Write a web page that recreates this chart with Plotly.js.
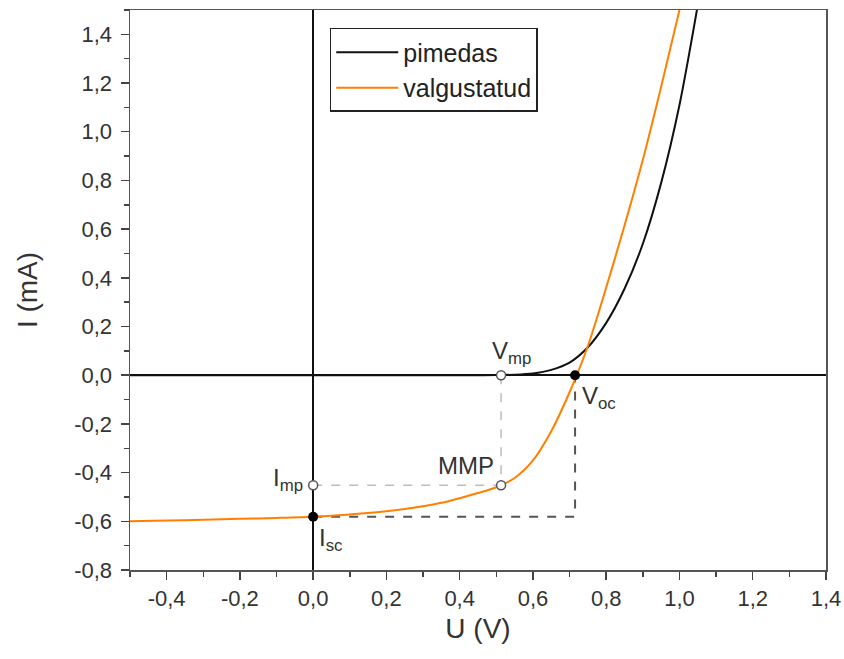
<!DOCTYPE html>
<html>
<head>
<meta charset="utf-8">
<script src="https://cdn.plot.ly/plotly-3.0.1.min.js"></script>
<style>html,body{margin:0;padding:0;background:#fff;}#chart{width:844px;height:659px;}</style>
</head>
<body>
<div id="chart"></div>
<script>
// Dark curve (pimedas)
const darkU = [-0.5, -0.3, -0.1, 0.1, 0.3, 0.45, 0.5, 0.55, 0.6, 0.65, 0.7, 0.75, 0.8, 0.85, 0.9, 0.95, 1.0, 1.05];
const darkI = [0, 0, 0, 0, 0, 0, 0.0005, 0.002, 0.007, 0.022, 0.052, 0.115, 0.215, 0.355, 0.54, 0.79, 1.11, 1.52];
// Illuminated curve (valgustatud)
const lightU = [-0.5, -0.4, -0.3, -0.2, -0.1, 0.0, 0.1, 0.2, 0.3, 0.35, 0.4, 0.45, 0.5, 0.55, 0.6, 0.65, 0.7, 0.75, 0.8, 0.85, 0.9, 0.95, 1.0];
const lightI = [-0.600, -0.597, -0.594, -0.590, -0.586, -0.581, -0.572, -0.559, -0.538, -0.524, -0.505, -0.484, -0.460, -0.422, -0.350, -0.230, -0.070, 0.120, 0.360, 0.615, 0.885, 1.185, 1.500];
// Key points
const Vmp = 0.513, Imp = -0.452, Voc = 0.715, Isc = -0.581;
const seriesNames = ["pimedas", "valgustatud"];
const xTickVals = [-0.4, -0.2, 0.0, 0.2, 0.4, 0.6, 0.8, 1.0, 1.2, 1.4];
const xTickText = ["-0,4", "-0,2", "0,0", "0,2", "0,4", "0,6", "0,8", "1,0", "1,2", "1,4"];
const yTickVals = [-0.8, -0.6, -0.4, -0.2, 0.0, 0.2, 0.4, 0.6, 0.8, 1.0, 1.2, 1.4];
const yTickText = ["-0,8", "-0,6", "-0,4", "-0,2", "0,0", "0,2", "0,4", "0,6", "0,8", "1,0", "1,2", "1,4"];

const FONT = "Liberation Sans, Arial, sans-serif";
const traces = [
  {x: [Vmp, Vmp], y: [0, Imp], mode: "lines", line: {color: "#bdbdbd", width: 1.5, dash: "dash"}, showlegend: false, hoverinfo: "skip"},
  {x: [0, Vmp], y: [Imp, Imp], mode: "lines", line: {color: "#bdbdbd", width: 1.5, dash: "dash"}, showlegend: false, hoverinfo: "skip"},
  {x: [0, Voc, Voc], y: [Isc, Isc, 0], mode: "lines", line: {color: "#555", width: 2, dash: "dash"}, showlegend: false, hoverinfo: "skip"},
  {x: darkU, y: darkI, name: seriesNames[0], mode: "lines", line: {color: "#111", width: 2, shape: "spline", smoothing: 0.8}},
  {x: lightU, y: lightI, name: seriesNames[1], mode: "lines", line: {color: "#ff8000", width: 2, shape: "spline", smoothing: 0.8}},
  {x: [Vmp, Vmp, 0], y: [0, Imp, Imp], mode: "markers", marker: {symbol: "circle", size: 9, color: "#fff", line: {color: "#555", width: 1.5}}, showlegend: false},
  {x: [0, Voc], y: [Isc, 0], mode: "markers", marker: {symbol: "circle", size: 10, color: "#000"}, showlegend: false}
];

const ann = (x, y, text, xanchor, yanchor, xshift, yshift) => ({x, y, text, showarrow: false, xanchor, yanchor, xshift, yshift, borderpad: 0, font: {family: FONT, size: 24, color: "#333"}});

const layout = {
  width: 844, height: 659,
  margin: {l: 130, r: 18, t: 10, b: 89},
  paper_bgcolor: "#fff", plot_bgcolor: "#fff",
  showlegend: true,
  legend: {x: 0.287, y: 0.968, xanchor: "left", yanchor: "top", bordercolor: "#222", borderwidth: 1.5, bgcolor: "#fff",
           font: {family: FONT, size: 25, color: "#222"}, tracegroupgap: 0, itemwidth: 62},
  xaxis: {range: [-0.5, 1.4], tickvals: xTickVals, ticktext: xTickText, ticks: "outside", ticklen: 8, tickwidth: 1.5, tickcolor: "#444",
          minor: {dtick: 0.1, tick0: 0, ticks: "outside", ticklen: 5, tickcolor: "#444", tickwidth: 1.5, showgrid: false},
          showline: true, linecolor: "#555", linewidth: 1.5, mirror: true, showgrid: false,
          zeroline: true, zerolinecolor: "#111", zerolinewidth: 1.5,
          tickfont: {family: FONT, size: 22, color: "#333"},
          title: {text: "U (V)", font: {family: FONT, size: 28, color: "#333"}, standoff: 8}},
  yaxis: {range: [-0.8, 1.5], tickvals: yTickVals, ticktext: yTickText, ticks: "outside", ticklen: 8, tickwidth: 1.5, tickcolor: "#444",
          ticklabelstandoff: 4,
          minor: {dtick: 0.1, tick0: 0, ticks: "outside", ticklen: 5, tickcolor: "#444", tickwidth: 1.5, showgrid: false},
          showline: true, linecolor: "#555", linewidth: 1.5, mirror: true, showgrid: false,
          zeroline: true, zerolinecolor: "#111", zerolinewidth: 1.5,
          tickfont: {family: FONT, size: 22, color: "#333"},
          title: {text: "I (mA)", font: {family: FONT, size: 28, color: "#333"}, standoff: 28}},
  annotations: [
    ann(Vmp, 0, "V<sub>mp</sub>", "left", "bottom", -10, 6),
    ann(Voc, 0, "V<sub>oc</sub>", "left", "top", 6, -6),
    ann(Vmp, Imp, "MMP", "right", "bottom", -6, 5),
    ann(0, Imp, "I<sub>mp</sub>", "right", "middle", -9, 6),
    ann(0, Isc, "I<sub>sc</sub>", "left", "top", 5, -6)
  ]
};

Plotly.newPlot("chart", traces, layout, {displayModeBar: false, staticPlot: true});
</script>
</body>
</html>
